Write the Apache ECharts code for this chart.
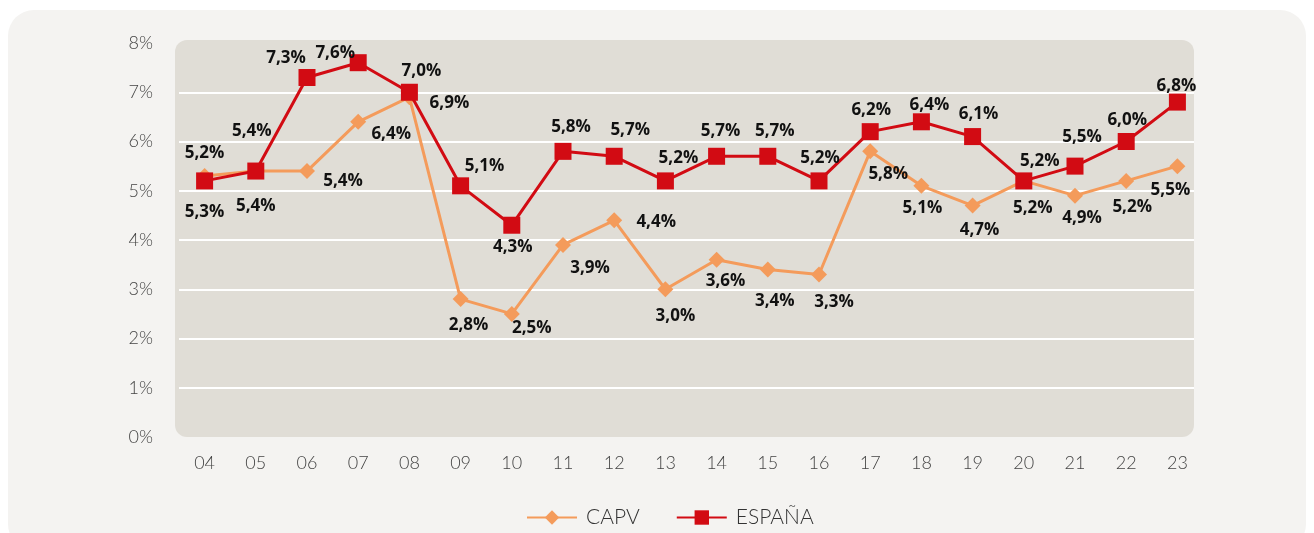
<!DOCTYPE html>
<html>
<head>
<meta charset="utf-8">
<script src="https://cdn.jsdelivr.net/npm/echarts@6/dist/echarts.min.js"></script>
<style>
  html, body { margin: 0; padding: 0; background: #ffffff; }
  #chart { width: 1314px; height: 533px; }
</style>
</head>
<body>
<div id="chart"></div>
<script>
// años (2004-2023)
const years = ['04', '05', '06', '07', '08', '09', '10', '11', '12', '13',
               '14', '15', '16', '17', '18', '19', '20', '21', '22', '23']
const yTicks = [0, 1, 2, 3, 4, 5, 6, 7, 8]

// valores en %
const capv = [5.3, 5.4, 5.4, 6.4, 6.9, 2.8, 2.5, 3.9, 4.4, 3.0,
              3.6, 3.4, 3.3, 5.8, 5.1, 4.7, 5.2, 4.9, 5.2, 5.5]
const espana = [5.2, 5.4, 7.3, 7.6, 7.0, 5.1, 4.3, 5.8, 5.7, 5.2,
                5.7, 5.7, 5.2, 6.2, 6.4, 6.1, 5.2, 5.5, 6.0, 6.8]

// desplazamiento de etiquetas (px) respecto al punto
const capvLabelOffset = [[0, 36], [0, 35], [36, 10], [33, 12], [40, 6], [8, 26], [20, 14], [27, 23], [42, 2], [10, 27],
                         [9, 21], [7, 32], [15, 28], [18, 23], [1, 22], [7, 25], [9, 27], [7, 22], [6, 26], [-7, 24]]
const espLabelOffset = [[0, -28], [-4, -40], [-21, -19], [-23, -10], [12, -21], [24, -20], [1, 22], [8, -24], [16, -26], [13, -23],
                        [4, -25], [7, -25], [1, -23], [1, -21], [8, -17], [6, -22], [16, -20], [7, -29], [1, -21], [-1, -16]]

const fmt = v => v.toFixed(1).replace('.', ',') + '%'
const labelFont = { fontFamily: 'Open Sans', fontWeight: 'bold', fontSize: 17, color: '#111' }
const axisFont = { color: '#444', fontSize: 18, fontWeight: 300, fontFamily: 'Lato' }

function withLabels(values, offsets) {
    return values.map((v, i) => ({
        value: v,
        label: { show: true, position: 'inside', offset: offsets[i], formatter: fmt(v), ...labelFont }
    }))
}

const chart = echarts.init(document.getElementById('chart'))
chart.setOption({
    animation: false,
    backgroundColor: '#ffffff',
    textStyle: { fontFamily: 'Lato' },
    graphic: [
        { type: 'rect', z: -10, silent: true,
          shape: { x: 8, y: 10, width: 1298, height: 540, r: 26 },
          style: { fill: '#f4f3f1' } },
        { type: 'rect', z: -9, silent: true,
          shape: { x: 175, y: 40, width: 1019, height: 397, r: 12 },
          style: { fill: '#e0ddd6' } },
        // tapa las líneas de rejilla fuera del fondo del gráfico
        { type: 'rect', z: 1, silent: true,
          shape: { x: 1194, y: 40, width: 14, height: 400 },
          style: { fill: '#f4f3f1' } }
    ],
    grid: { left: 179, right: 111, top: 43, bottom: 96, containLabel: false },
    xAxis: {
        type: 'category',
        data: years,
        boundaryGap: true,
        axisLine: { show: false },
        axisTick: { show: false },
        axisLabel: { margin: 17, ...axisFont }
    },
    yAxis: {
        type: 'value',
        min: yTicks[0],
        max: yTicks[yTicks.length - 1],
        interval: 1,
        axisLine: { show: false },
        axisTick: { show: false },
        axisLabel: { margin: 26, ...axisFont, formatter: v => v + '%' },
        splitLine: { showMinLine: false, showMaxLine: false, lineStyle: { color: '#ffffff', width: 2 } }
    },
    legend: {
        bottom: 0,
        left: 521,
        itemWidth: 50,
        itemHeight: 18,
        itemGap: 36,
        textStyle: { fontSize: 21, color: '#333', fontWeight: 300, fontFamily: 'Lato', padding: [0, 0, 0, 4] },
        data: ['CAPV', 'ESPAÑA']
    },
    series: [
        {
            name: 'CAPV',
            type: 'line',
            data: withLabels(capv, capvLabelOffset),
            symbol: 'diamond',
            symbolSize: 16,
            itemStyle: { color: '#f49b5b' },
            lineStyle: { color: '#f49b5b', width: 3 },
            z: 2
        },
        {
            name: 'ESPAÑA',
            type: 'line',
            data: withLabels(espana, espLabelOffset),
            symbol: 'rect',
            symbolSize: 17,
            itemStyle: { color: '#d20b13' },
            lineStyle: { color: '#d20b13', width: 3 },
            z: 3
        }
    ]
})
</script>
</body>
</html>
